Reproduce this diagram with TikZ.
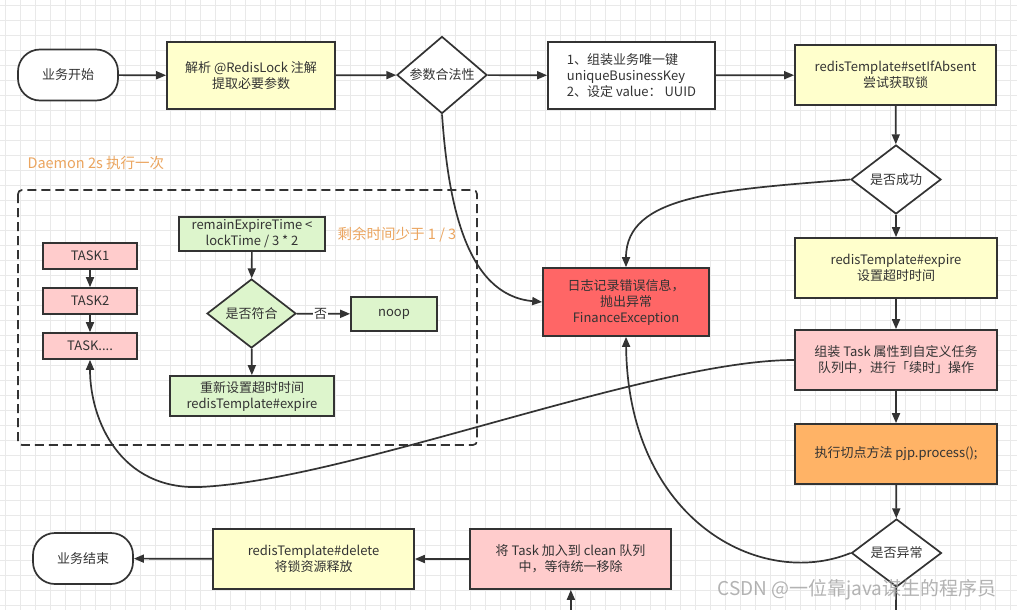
\documentclass[tikz,border=0pt]{standalone}
\usepackage{fontspec}
\setmainfont{Noto Sans CJK SC}
\usepackage{xcolor}
\usepackage{tikz}
\usetikzlibrary{arrows.meta,shapes.geometric}

\definecolor{ink}{HTML}{333333}
\definecolor{fillyellow}{HTML}{FFFFCC}
\definecolor{fillpink}{HTML}{FFCCCC}
\definecolor{fillred}{HTML}{FF6666}
\definecolor{fillorange}{HTML}{FFB366}
\definecolor{fillgreen}{HTML}{DDF5CC}
\definecolor{notecol}{HTML}{EBA55F}
\definecolor{gridcol}{HTML}{E9E9E9}
\definecolor{markcol}{HTML}{A0A0A0}

\begin{document}
\begin{tikzpicture}[x=1pt, y=-1pt,
  font=\fontsize{13}{16}\selectfont, text=ink,
  box/.style={draw=ink, line width=1.7pt, align=center, inner sep=2pt,
              minimum width=201pt, minimum height=60pt},
  term/.style={draw=ink, line width=1.7pt, rounded corners=22pt, fill=white,
               minimum width=100pt, minimum height=51pt},
  dec/.style={diamond, draw=ink, line width=1.7pt, fill=white, inner sep=0pt,
              minimum width=90pt, minimum height=70pt},
  task/.style={draw=ink, line width=1.7pt, fill=fillpink,
               minimum width=94pt, minimum height=26pt, inner sep=1pt},
  gbox/.style={box, fill=fillgreen, minimum height=34pt},
  note/.style={text=notecol, font=\fontsize{14.5}{16}\selectfont},
  arr/.style={-{Triangle[length=10pt,width=8pt]}, draw=ink, line width=1.7pt},
  line/.style={draw=ink, line width=1.7pt}]

% background and grid
\fill[white] (0,0) rectangle (1017,610);
\useasboundingbox (0,0) rectangle (1017,610);
\foreach \g in {5,20,...,1015}
  \draw[gridcol, line width=0.6pt] (\g,0) -- (\g,610);
\foreach \g in {5,20,...,605}
  \draw[gridcol, line width=0.6pt] (0,\g) -- (1017,\g);

% main flow
\node[term] (start) at (68,75) {业务开始};
\node[box, fill=fillyellow, minimum width=168pt, minimum height=67pt] (parse) at (251,75.5)
  {解析 @RedisLock 注解\\提取必要参数};
\node[dec, minimum height=71pt] (valid) at (442,75) {参数合法性};
\node[box, fill=white, align=left, minimum width=167pt, minimum height=67pt] (keygen) at (631.5,75.5)
  {1、组装业务唯一键\\uniqueBusinessKey\\2、设定 value：\ UUID};
\node[box, fill=fillyellow] (setnx) at (895.5,75) {redisTemplate\#setIfAbsent\\尝试获取锁};
\node[dec, minimum height=69pt] (succ) at (896,179.5) {是否成功};
\node[box, fill=fillyellow, minimum width=202pt] (expire) at (896,268) {redisTemplate\#expire\\设置超时时间};
\node[box, fill=fillred, minimum width=166pt, minimum height=68pt] (fail) at (626,302)
  {日志记录错误信息，\\抛出异常\\FinanceException};
\node[box, fill=fillpink, minimum width=202pt] (renew) at (896,360)
  {组装 Task 属性到自定义任务\\队列中，进行「续时」操作};
\node[box, fill=fillorange, minimum width=202pt] (proceed) at (896,454) {执行切点方法 pjp.process();};
\node[dec, minimum height=68pt] (exc) at (896.5,553) {是否异常};
\node[box, fill=fillpink] (clean) at (570.5,559) {将 Task 加入到 clean 队列\\中，等待统一移除};
\node[box, fill=fillyellow] (unlock) at (313.5,559) {redisTemplate\#delete\\将锁资源释放};
\node[term] (finish) at (83,558.5) {业务结束};
\coordinate (excout) at (896,610);
\coordinate (cleanin) at (571,610);

% daemon
\draw[ink, line width=1.7pt, dash pattern=on 9pt off 5pt, rounded corners=4pt]
  (18,190) rectangle (477,445);
\node[note, anchor=west] (daemon) at (24,163) {Daemon 2s 执行一次};
\node[task] (task1) at (90,256) {TASK1};
\node[task] (task2) at (90,301) {TASK2};
\node[task] (task3) at (90,346) {TASK....};
\node[gbox, minimum width=146pt, inner sep=1pt] (check) at (252,234) {remainExpireTime <\\lockTime / 3 * 2};
\node[note] (third) at (397,235) {剩余时间少于 1 / 3};
\node[dec, fill=fillgreen, minimum width=89pt, minimum height=69pt] (match) at (251.5,313.5) {是否符合};
\node[gbox, minimum width=86pt] (noop) at (394,314) {noop};
\node[gbox, minimum width=164pt, minimum height=40pt, inner sep=1pt] (reset) at (252,396)
  {重新设置超时时间\\redisTemplate\#expire};

\foreach \a/\b in {start/parse,parse/valid,valid/keygen,keygen/setnx,setnx/succ,succ/expire,
                   expire/renew,renew/proceed,proceed/exc,clean/unlock,unlock/finish,
                   task1/task2,task2/task3,check/match,match/reset,cleanin/clean}
  \draw[arr] (\a) -- (\b);
\draw[arr] (match) -- node[fill=white, inner sep=1pt, pos=0.45] {否} (noop);
\draw[line] (exc) -- (excout);

% curved connectors
\draw[arr] (valid.south) .. controls (448,200) and (465,295) .. (fail.west);
\draw[arr] (succ.west) .. controls (720,190) and (626,195) .. (fail.north);
\draw[arr] (renew.west) .. controls (650,360) and (350,480) .. (200,487)
  .. controls (120,490) and (90,420) .. (task3.south);
\draw[arr] (exc.west) .. controls (760,590) and (628,520) .. (fail.south);

\node[text=markcol, opacity=0.8, font=\fontsize{19}{20}\selectfont, anchor=west] (mark) at (714,590)
  {CSDN @一位靠java谋生的程序员};
\end{tikzpicture}
\end{document}
